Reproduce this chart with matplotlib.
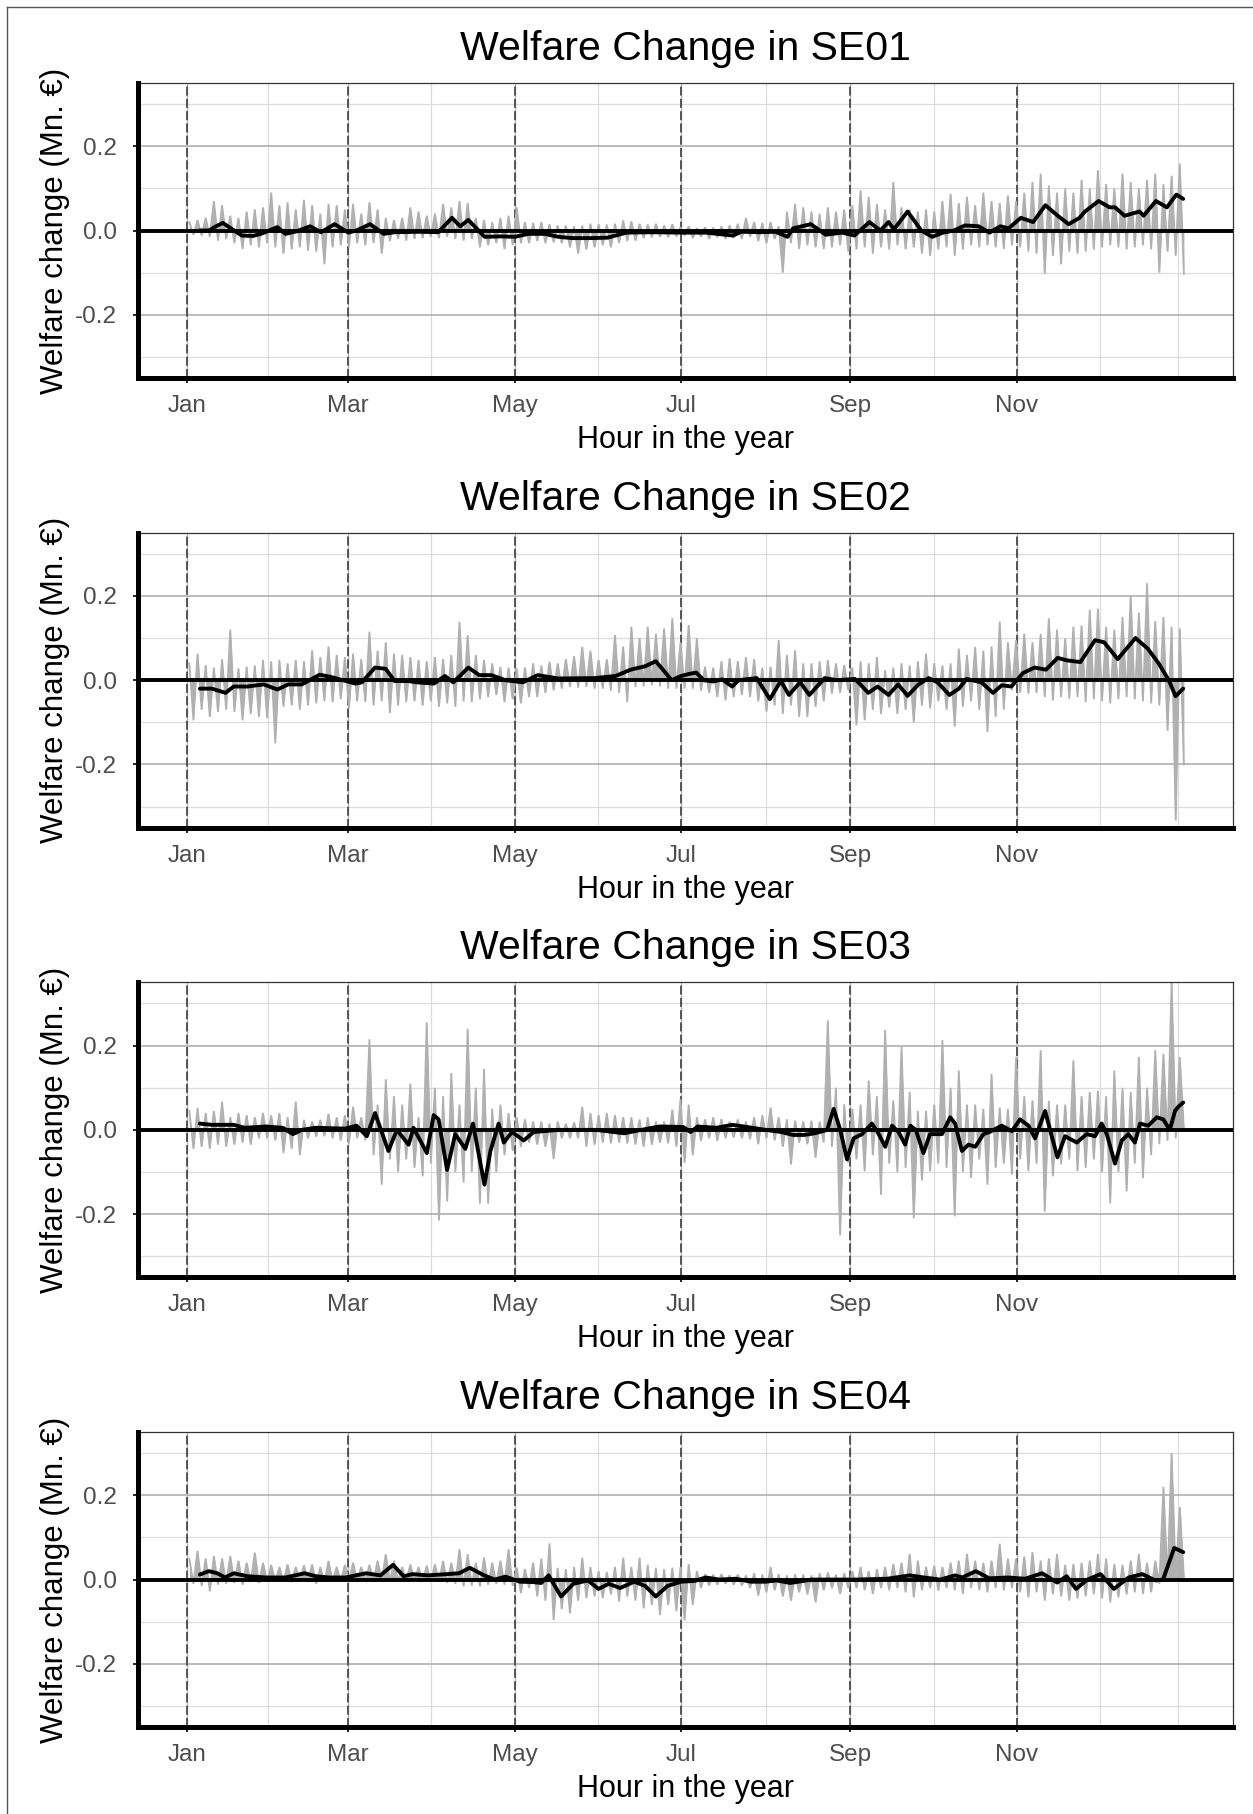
import matplotlib
matplotlib.use("Agg")
import matplotlib.pyplot as plt
from matplotlib.lines import Line2D

plt.rcParams["font.family"] = ["Liberation Sans", "DejaVu Sans"]

# ---------------------------------------------------------------- axes setup
MONTH_DAYS = [0, 59, 120, 181, 243, 304]
MONTH_LABELS = ["Jan", "Mar", "May", "Jul", "Sep", "Nov"]
MINOR_DAYS = [29.5, 89.5, 150.5, 212, 273.5, 334.5, 363]
Y_MAJOR = [-0.2, 0.0, 0.2]
Y_MAJOR_LABELS = ["-0.2", "0.0", "0.2"]
Y_MINOR = [-0.3, -0.1, 0.1, 0.3]
ZONES = ["SE01", "SE02", "SE03", "SE04"]

# start day of each 3-day bin of hourly welfare change
BIN_DAYS = list(range(0, 366, 3))

# ------------------------------------------- hourly range per bin (Mn. EUR)
SE01_HI = [0.020, 0.025, 0.030, 0.070, 0.060, 0.035, 0.030, 0.045, 0.050, 0.055,
           0.090, 0.060, 0.067, 0.050, 0.073, 0.060, 0.040, 0.063, 0.060, 0.050,
           0.063, 0.040, 0.067, 0.050, 0.030, 0.025, 0.030, 0.055, 0.045, 0.035,
           0.040, 0.063, 0.055, 0.070, 0.065, 0.030, 0.025, 0.020, 0.030, 0.035,
           0.055, 0.020, 0.018, 0.020, 0.015, 0.012, 0.012, 0.010, 0.012, 0.016,
           0.015, 0.014, 0.016, 0.024, 0.022, 0.016, 0.014, 0.016, 0.012, 0.015,
           0.008, 0.010, 0.006, 0.008, 0.007, 0.010, 0.012, 0.016, 0.030, 0.020,
           0.018, 0.020, 0.010, 0.045, 0.063, 0.055, 0.045, 0.040, 0.055, 0.045,
           0.050, 0.060, 0.095, 0.080, 0.063, 0.050, 0.115, 0.055, 0.050, 0.045,
           0.050, 0.045, 0.070, 0.087, 0.065, 0.080, 0.060, 0.090, 0.070, 0.065,
           0.083, 0.070, 0.090, 0.115, 0.135, 0.107, 0.090, 0.100, 0.090, 0.120,
           0.100, 0.143, 0.110, 0.100, 0.135, 0.115, 0.100, 0.120, 0.135, 0.110,
           0.130, 0.159]
SE01_LO = [-0.010, -0.012, -0.015, -0.024, -0.020, -0.030, -0.044, -0.035, -0.040, -0.030,
           -0.040, -0.055, -0.045, -0.040, -0.048, -0.050, -0.080, -0.040, -0.035, -0.040,
           -0.030, -0.035, -0.030, -0.055, -0.025, -0.020, -0.024, -0.020, -0.018, -0.015,
           -0.018, -0.015, -0.020, -0.024, -0.020, -0.040, -0.035, -0.030, -0.044, -0.035,
           -0.030, -0.030, -0.025, -0.030, -0.028, -0.030, -0.040, -0.055, -0.045, -0.040,
           -0.035, -0.040, -0.030, -0.025, -0.024, -0.018, -0.016, -0.015, -0.016, -0.014,
           -0.012, -0.018, -0.015, -0.020, -0.016, -0.020, -0.018, -0.020, -0.015, -0.025,
           -0.030, -0.020, -0.100, -0.030, -0.044, -0.035, -0.040, -0.044, -0.040, -0.035,
           -0.050, -0.045, -0.040, -0.055, -0.040, -0.045, -0.035, -0.045, -0.040, -0.055,
           -0.060, -0.045, -0.040, -0.060, -0.045, -0.035, -0.040, -0.035, -0.040, -0.044,
           -0.035, -0.040, -0.050, -0.055, -0.103, -0.060, -0.080, -0.050, -0.055, -0.050,
           -0.045, -0.040, -0.035, -0.040, -0.045, -0.040, -0.035, -0.045, -0.100, -0.050,
           -0.060, -0.103]

SE02_HI = [0.040, 0.063, 0.036, 0.030, 0.050, 0.120, 0.028, 0.032, 0.035, 0.048,
           0.045, 0.048, 0.040, 0.048, 0.045, 0.071, 0.055, 0.080, 0.060, 0.055,
           0.063, 0.050, 0.115, 0.070, 0.090, 0.063, 0.060, 0.055, 0.048, 0.045,
           0.055, 0.050, 0.060, 0.139, 0.107, 0.060, 0.048, 0.040, 0.032, 0.030,
           0.028, 0.030, 0.040, 0.035, 0.044, 0.040, 0.050, 0.057, 0.079, 0.070,
           0.048, 0.050, 0.107, 0.080, 0.127, 0.100, 0.127, 0.110, 0.123, 0.147,
           0.090, 0.131, 0.100, 0.032, 0.030, 0.045, 0.052, 0.045, 0.055, 0.050,
           0.030, 0.032, 0.095, 0.060, 0.071, 0.040, 0.040, 0.045, 0.048, 0.040,
           0.036, 0.030, 0.045, 0.040, 0.055, 0.024, 0.030, 0.040, 0.035, 0.045,
           0.063, 0.040, 0.035, 0.040, 0.075, 0.060, 0.079, 0.070, 0.080, 0.139,
           0.090, 0.095, 0.110, 0.090, 0.110, 0.147, 0.120, 0.100, 0.127, 0.130,
           0.167, 0.170, 0.127, 0.120, 0.150, 0.200, 0.160, 0.230, 0.140, 0.150,
           0.127, 0.123]
SE02_LO = [-0.095, -0.070, -0.087, -0.075, -0.070, -0.075, -0.095, -0.080, -0.087, -0.090,
           -0.150, -0.063, -0.060, -0.070, -0.060, -0.055, -0.050, -0.052, -0.045, -0.067,
           -0.050, -0.052, -0.060, -0.050, -0.078, -0.060, -0.052, -0.050, -0.060, -0.050,
           -0.063, -0.055, -0.063, -0.050, -0.052, -0.045, -0.040, -0.035, -0.052, -0.045,
           -0.055, -0.040, -0.040, -0.030, -0.024, -0.020, -0.016, -0.018, -0.016, -0.020,
           -0.020, -0.025, -0.030, -0.052, -0.016, -0.015, -0.012, -0.015, -0.020, -0.020,
           -0.020, -0.020, -0.025, -0.030, -0.040, -0.048, -0.040, -0.035, -0.040, -0.050,
           -0.075, -0.060, -0.080, -0.060, -0.087, -0.087, -0.063, -0.050, -0.032, -0.030,
           -0.024, -0.107, -0.095, -0.070, -0.080, -0.065, -0.080, -0.070, -0.100, -0.060,
           -0.067, -0.050, -0.070, -0.110, -0.063, -0.050, -0.070, -0.123, -0.087, -0.070,
           -0.024, -0.030, -0.032, -0.030, -0.040, -0.048, -0.040, -0.044, -0.040, -0.052,
           -0.045, -0.050, -0.055, -0.045, -0.040, -0.045, -0.050, -0.055, -0.060, -0.120,
           -0.333, -0.200]

SE03_HI = [0.045, 0.052, 0.040, 0.045, 0.067, 0.030, 0.040, 0.035, 0.030, 0.040,
           0.035, 0.040, 0.030, 0.067, 0.024, 0.020, 0.024, 0.038, 0.030, 0.035,
           0.055, 0.030, 0.215, 0.060, 0.120, 0.080, 0.060, 0.110, 0.030, 0.255,
           0.100, 0.080, 0.135, 0.060, 0.240, 0.100, 0.145, 0.050, 0.060, 0.040,
           0.030, 0.025, 0.020, 0.020, 0.015, 0.020, 0.015, 0.018, 0.055, 0.040,
           0.035, 0.040, 0.035, 0.030, 0.030, 0.025, 0.030, 0.020, 0.020, 0.048,
           0.073, 0.060, 0.030, 0.025, 0.030, 0.026, 0.020, 0.025, 0.020, 0.030,
           0.035, 0.053, 0.030, 0.025, 0.022, 0.020, 0.022, 0.020, 0.260, 0.100,
           0.061, 0.050, 0.060, 0.117, 0.080, 0.237, 0.070, 0.197, 0.090, 0.045,
           0.045, 0.060, 0.213, 0.100, 0.141, 0.060, 0.060, 0.050, 0.133, 0.053,
           0.050, 0.173, 0.080, 0.070, 0.189, 0.069, 0.060, 0.060, 0.165, 0.080,
           0.090, 0.093, 0.080, 0.141, 0.100, 0.090, 0.173, 0.100, 0.189, 0.181,
           0.352, 0.173]
SE03_LO = [-0.045, -0.040, -0.045, -0.035, -0.040, -0.035, -0.030, -0.035, -0.020, -0.020,
           -0.025, -0.055, -0.045, -0.060, -0.020, -0.016, -0.015, -0.020, -0.025, -0.032,
           -0.020, -0.025, -0.060, -0.130, -0.070, -0.100, -0.070, -0.090, -0.110, -0.080,
           -0.215, -0.170, -0.100, -0.125, -0.100, -0.175, -0.175, -0.100, -0.060, -0.050,
           -0.040, -0.030, -0.035, -0.040, -0.069, -0.020, -0.020, -0.020, -0.040, -0.035,
           -0.030, -0.032, -0.030, -0.032, -0.035, -0.040, -0.035, -0.030, -0.032, -0.040,
           -0.078, -0.060, -0.026, -0.020, -0.026, -0.020, -0.018, -0.020, -0.022, -0.034,
           -0.020, -0.025, -0.040, -0.082, -0.030, -0.034, -0.066, -0.030, -0.040, -0.250,
           -0.078, -0.070, -0.098, -0.060, -0.154, -0.080, -0.100, -0.090, -0.210, -0.120,
           -0.098, -0.080, -0.090, -0.205, -0.100, -0.114, -0.070, -0.130, -0.090, -0.080,
           -0.106, -0.070, -0.098, -0.080, -0.194, -0.110, -0.082, -0.070, -0.098, -0.090,
           -0.070, -0.100, -0.174, -0.100, -0.146, -0.080, -0.114, -0.060, -0.034, -0.026,
           -0.020, 0.000]

SE04_HI = [0.050, 0.068, 0.050, 0.056, 0.050, 0.056, 0.045, 0.040, 0.064, 0.040,
           0.035, 0.030, 0.036, 0.030, 0.034, 0.036, 0.030, 0.044, 0.030, 0.035,
           0.040, 0.030, 0.035, 0.045, 0.060, 0.045, 0.030, 0.036, 0.030, 0.033,
           0.036, 0.044, 0.040, 0.072, 0.060, 0.040, 0.052, 0.040, 0.045, 0.072,
           0.028, 0.025, 0.040, 0.050, 0.086, 0.028, 0.025, 0.030, 0.052, 0.030,
           0.020, 0.018, 0.030, 0.052, 0.030, 0.052, 0.035, 0.028, 0.025, 0.028,
           0.030, 0.037, 0.020, 0.013, 0.012, 0.013, 0.010, 0.012, 0.010, 0.015,
           0.012, 0.030, 0.013, 0.010, 0.013, 0.012, 0.010, 0.015, 0.017, 0.012,
           0.015, 0.020, 0.030, 0.020, 0.025, 0.030, 0.037, 0.040, 0.061, 0.045,
           0.030, 0.033, 0.030, 0.040, 0.045, 0.061, 0.045, 0.040, 0.045, 0.085,
           0.050, 0.050, 0.055, 0.065, 0.045, 0.050, 0.061, 0.035, 0.037, 0.040,
           0.045, 0.061, 0.050, 0.037, 0.035, 0.045, 0.061, 0.040, 0.045, 0.220,
           0.300, 0.172]
SE04_LO = [-0.010, -0.015, -0.028, -0.012, -0.010, -0.008, -0.012, -0.006, -0.008, -0.005,
           -0.004, -0.005, -0.006, -0.004, -0.005, -0.010, -0.005, -0.004, -0.004, -0.003,
           -0.003, -0.004, -0.003, -0.003, -0.004, -0.003, -0.004, -0.003, -0.004, -0.004,
           -0.005, -0.008, -0.010, -0.016, -0.014, -0.016, -0.012, -0.010, -0.012, -0.015,
           -0.032, -0.020, -0.040, -0.050, -0.096, -0.070, -0.080, -0.050, -0.044, -0.040,
           -0.044, -0.035, -0.052, -0.040, -0.050, -0.068, -0.060, -0.084, -0.060, -0.075,
           -0.097, -0.060, -0.020, -0.014, -0.012, -0.010, -0.012, -0.014, -0.020, -0.038,
           -0.030, -0.025, -0.040, -0.050, -0.030, -0.035, -0.054, -0.025, -0.020, -0.034,
           -0.020, -0.020, -0.025, -0.034, -0.020, -0.025, -0.020, -0.030, -0.042, -0.025,
           -0.020, -0.026, -0.020, -0.025, -0.034, -0.020, -0.025, -0.030, -0.020, -0.026,
           -0.020, -0.030, -0.042, -0.030, -0.050, -0.035, -0.040, -0.050, -0.045, -0.040,
           -0.035, -0.045, -0.054, -0.042, -0.035, -0.030, -0.034, -0.030, -0.010, -0.003,
           0.005, 0.005]

# ------------------------------------------------ weekly moving average (Mn. EUR)
SE01_MA_DAY = [4.5, 8, 10, 13, 16, 20, 24, 27, 30, 33, 36, 40, 45, 49, 54, 59, 62, 67,
               72, 76, 85, 92, 97, 100, 103, 106, 109, 115, 120, 125, 131, 136, 141,
               148, 154, 161, 170, 181, 190, 200, 203, 210, 215.5, 220, 222, 228.5,
               234, 240, 244.5, 250, 254, 257, 259, 264, 269, 273, 277, 281, 285,
               290, 294, 298, 301, 305.5, 310, 314.5, 319, 323, 327, 329, 334, 338,
               340, 343.5, 349, 350.5, 355, 359, 362.5, 365]
SE01_MA_VAL = [0.000, 0.000, 0.008, 0.018, 0.005, -0.012, -0.013, -0.008, 0.000, 0.008,
               -0.008, -0.002, 0.010, -0.004, 0.015, -0.005, 0.000, 0.015, -0.008,
               -0.004, -0.003, -0.004, 0.030, 0.010, 0.025, 0.005, -0.015, -0.014,
               -0.015, -0.008, -0.008, -0.015, -0.018, -0.018, -0.017, -0.005, -0.004,
               -0.005, -0.005, -0.012, -0.003, -0.004, -0.003, -0.015, 0.005, 0.015,
               -0.010, -0.005, -0.012, 0.020, 0.000, 0.020, 0.003, 0.045, 0.000,
               -0.015, -0.005, 0.000, 0.012, 0.010, -0.005, 0.010, 0.005, 0.030,
               0.020, 0.060, 0.035, 0.015, 0.030, 0.045, 0.070, 0.055, 0.055, 0.035,
               0.045, 0.035, 0.070, 0.055, 0.085, 0.075]

SE02_MA_DAY = [4.6, 9, 14, 17, 22, 28, 33, 37, 42, 48.5, 52.4, 57, 61.6, 64, 68.8, 72.7,
               76, 81, 84, 90.4, 94.4, 97.5, 103, 107, 111.4, 116.6, 123, 128.4, 136,
               149.4, 157, 162.5, 167.8, 171.7, 175.6, 177.5, 181, 184, 186.5, 189.3,
               192.8, 196, 199.7, 202, 208.7, 213.5, 217.5, 220.5, 224.6, 228, 233.6,
               238, 244.7, 249.6, 253, 257, 260.5, 264, 268, 271.7, 275, 279.3, 282.8,
               285.6, 291, 295.3, 298.5, 302, 306.3, 310.5, 314.7, 319, 322.4, 327.3,
               332.7, 336, 341, 347.5, 352, 356, 359.7, 362.2, 365]
SE02_MA_VAL = [-0.020, -0.020, -0.030, -0.015, -0.015, -0.010, -0.022, -0.010, -0.010,
               0.013, 0.008, 0.000, -0.008, -0.005, 0.030, 0.027, -0.002, -0.002,
               -0.005, -0.008, 0.010, -0.005, 0.030, 0.012, 0.012, 0.000, -0.005,
               0.012, 0.004, 0.005, 0.010, 0.025, 0.033, 0.045, 0.015, 0.000, 0.010,
               0.015, 0.018, 0.000, -0.003, 0.002, -0.015, 0.000, 0.005, -0.045,
               -0.002, -0.035, -0.005, -0.035, 0.005, 0.000, 0.003, -0.030, -0.015,
               -0.035, -0.010, -0.037, -0.010, 0.005, -0.005, -0.035, -0.020, 0.003,
               -0.005, -0.030, -0.012, -0.015, 0.017, 0.030, 0.025, 0.053, 0.047,
               0.043, 0.095, 0.090, 0.050, 0.100, 0.075, 0.040, 0.000, -0.038, -0.020]

SE03_MA_DAY = [4.6, 9, 17, 21, 29, 35, 38.7, 42, 47, 57.7, 62, 65.8, 68.8, 73.7, 76.8,
               81.1, 82.9, 87.8, 90.3, 92.1, 95.2, 98.2, 101.9, 104.7, 108.9, 111.1,
               114.1, 116, 119, 123.3, 127, 136, 150, 160, 166.4, 173, 181.7, 184.5,
               187, 194, 199.7, 205, 212, 217.7, 222, 226, 230, 234.5, 236.9, 239.3,
               241.8, 244.2, 247.3, 250.9, 253, 255.8, 258.3, 260.7, 263.1, 265, 267,
               269.8, 272.2, 276.6, 279.6, 281.4, 283.9, 286.3, 288.8, 291.8, 294,
               298.5, 302.2, 305.2, 308.3, 310.7, 314.4, 316.2, 318.9, 321.7, 326,
               329.6, 332.7, 335.1, 337, 340, 342.5, 344.9, 347.3, 349.2, 352.2, 355.3,
               357.7, 360.1, 362, 363.2, 365]
SE03_MA_VAL = [0.015, 0.012, 0.012, 0.005, 0.008, 0.005, -0.010, 0.000, 0.005, 0.003,
               0.010, -0.015, 0.040, -0.050, 0.000, -0.035, 0.005, -0.055, 0.035,
               0.025, -0.095, -0.010, -0.045, 0.015, -0.130, -0.050, 0.015, -0.030,
               -0.005, -0.025, -0.005, 0.000, 0.000, -0.008, 0.000, 0.008, 0.007,
               -0.005, 0.008, 0.005, 0.012, 0.007, 0.000, -0.005, -0.012, -0.012,
               -0.008, 0.000, 0.050, 0.000, -0.070, -0.020, -0.010, 0.015, -0.005,
               -0.040, 0.010, -0.005, -0.035, 0.010, 0.000, -0.055, -0.010, -0.010,
               0.030, 0.015, -0.050, -0.035, -0.040, -0.010, -0.005, 0.010, -0.003,
               0.025, 0.010, -0.020, 0.045, 0.000, -0.065, -0.015, -0.030, -0.010,
               -0.015, 0.015, -0.010, -0.080, -0.025, -0.010, -0.030, 0.015, 0.010,
               0.030, 0.025, 0.000, 0.045, 0.055, 0.065]

SE04_MA_DAY = [4.6, 7.9, 11, 13.8, 17, 22, 29, 36, 43, 47, 52, 58, 65.5, 70.8, 75.4, 79.3,
               82.6, 88, 93, 99.6, 103.5, 108.8, 112.7, 116.6, 121.9, 127, 129.7, 132.4,
               137, 141.5, 146.8, 150.7, 154.5, 158.6, 163.8, 167.8, 171.7, 176, 181,
               186, 190, 195, 201, 206.6, 212, 216, 221, 228.8, 245, 256.5, 264.8, 270,
               275.9, 281.4, 284, 289, 293.9, 300.8, 307, 313.3, 318.8, 322.3, 325.7,
               329.9, 334.7, 339.6, 345, 350, 354.8, 357.6, 361.7, 365]
SE04_MA_VAL = [0.012, 0.020, 0.015, 0.005, 0.015, 0.008, 0.005, 0.005, 0.015, 0.008,
               0.005, 0.005, 0.015, 0.010, 0.035, 0.008, 0.013, 0.010, 0.012, 0.015,
               0.028, 0.010, 0.000, 0.007, -0.005, -0.006, -0.008, 0.010, -0.040,
               -0.010, -0.002, -0.022, -0.010, -0.020, -0.005, -0.015, -0.040, -0.015,
               -0.005, -0.003, 0.005, 0.000, 0.002, -0.005, -0.005, -0.002, -0.008,
               0.000, 0.000, 0.002, 0.010, 0.005, 0.000, 0.010, 0.005, 0.020, 0.003,
               0.005, 0.002, 0.015, -0.007, 0.008, -0.022, 0.000, 0.013, -0.022, 0.005,
               0.013, -0.002, 0.000, 0.075, 0.065]

PANELS = {
    "SE01": (SE01_HI, SE01_LO, SE01_MA_DAY, SE01_MA_VAL),
    "SE02": (SE02_HI, SE02_LO, SE02_MA_DAY, SE02_MA_VAL),
    "SE03": (SE03_HI, SE03_LO, SE03_MA_DAY, SE03_MA_VAL),
    "SE04": (SE04_HI, SE04_LO, SE04_MA_DAY, SE04_MA_VAL),
}

# ------------------------------------------------------------------ drawing
W, H = 1253, 1814
PITCH = 449.7
GREY = "#b0b0b0"
fig = plt.figure(figsize=(W / 100, H / 100), dpi=100)
fig.patch.set_facecolor("white")

AX_LEFT, AX_RIGHT, AX_H = 137.5, 1233.0, 295.0
x_mid = (AX_LEFT + AX_RIGHT) / 2 / W

for i, zone in enumerate(ZONES):
    hi, lo, ma_day, ma_val = PANELS[zone]
    top = 83 + PITCH * i
    bottom = top + AX_H
    ax = fig.add_axes([AX_LEFT / W, 1 - bottom / H, (AX_RIGHT - AX_LEFT) / W, AX_H / H])
    ax.set_xlim(-18.25, 383.25)
    ax.set_ylim(-0.35, 0.35)

    # panel grid
    for y in Y_MINOR:
        ax.axhline(y, color="#dcdcdc", lw=0.9, zorder=0)
    for x in MINOR_DAYS:
        ax.axvline(x, color="#dcdcdc", lw=0.9, zorder=0)
    for y in Y_MAJOR:
        ax.axhline(y, color="#a8a8a8", lw=1.1, zorder=0.5)
    for x in MONTH_DAYS:
        ax.axvline(x, color="#b8b8b8", lw=1.0, zorder=0.5)
        ax.axvline(x, color="#4a4a4a", lw=1.3, ls=(0, (5, 1.8)), zorder=0.6)

    # hourly values: each bin swings from its high to its low
    gx, gy = [], []
    for d, h, l in zip(BIN_DAYS, hi, lo):
        gx += [d + 0.75, d + 2.25]
        gy += [h, l]
    ax.fill_between(gx, gy, 0, color=GREY, lw=0, zorder=1.8)
    ax.plot(gx, gy, color=GREY, lw=1.3, zorder=2, solid_joinstyle="miter")

    ax.axhline(0, color="black", lw=2.8, zorder=3)
    ax.plot(ma_day, ma_val, color="black", lw=2.8, zorder=4,
            solid_joinstyle="round", solid_capstyle="round")

    # frame
    for side in ("left", "bottom"):
        ax.spines[side].set_linewidth(3.6)
        ax.spines[side].set_color("black")
        ax.spines[side].set_capstyle("projecting")
        ax.spines[side].set_zorder(5)
    for side in ("top", "right"):
        ax.spines[side].set_linewidth(0.9)
        ax.spines[side].set_color("#333333")

    ax.set_xticks(MONTH_DAYS, MONTH_LABELS)
    ax.set_yticks(Y_MAJOR, Y_MAJOR_LABELS)
    ax.tick_params(length=3.8, width=1.2, color="black", labelsize=17.5,
                   labelcolor="#4d4d4d")
    ax.tick_params(axis="x", pad=8.4)
    ax.tick_params(axis="y", pad=11.0)

    fig.text(x_mid, 1 - (60 + PITCH * i) / H, f"Welfare Change in {zone}",
             ha="center", va="baseline", fontsize=29.5, color="black")
    fig.text(x_mid, 1 - (bottom + 70) / H, "Hour in the year",
             ha="center", va="baseline", fontsize=22, color="black")
    fig.text(55.5 / W, 1 - (top + AX_H / 2) / H, "Welfare change (Mn. €)",
             rotation=90, ha="center", va="center", fontsize=22.5, color="black")

# outer frame of the figure
fig.add_artist(Line2D([7 / W, 7 / W], [0, 1 - 7 / H], transform=fig.transFigure,
                      color="#555555", lw=1.0))
fig.add_artist(Line2D([7 / W, 1], [1 - 7 / H, 1 - 7 / H], transform=fig.transFigure,
                      color="#555555", lw=1.0))

fig.savefig("out.png", dpi=100, facecolor="white")
